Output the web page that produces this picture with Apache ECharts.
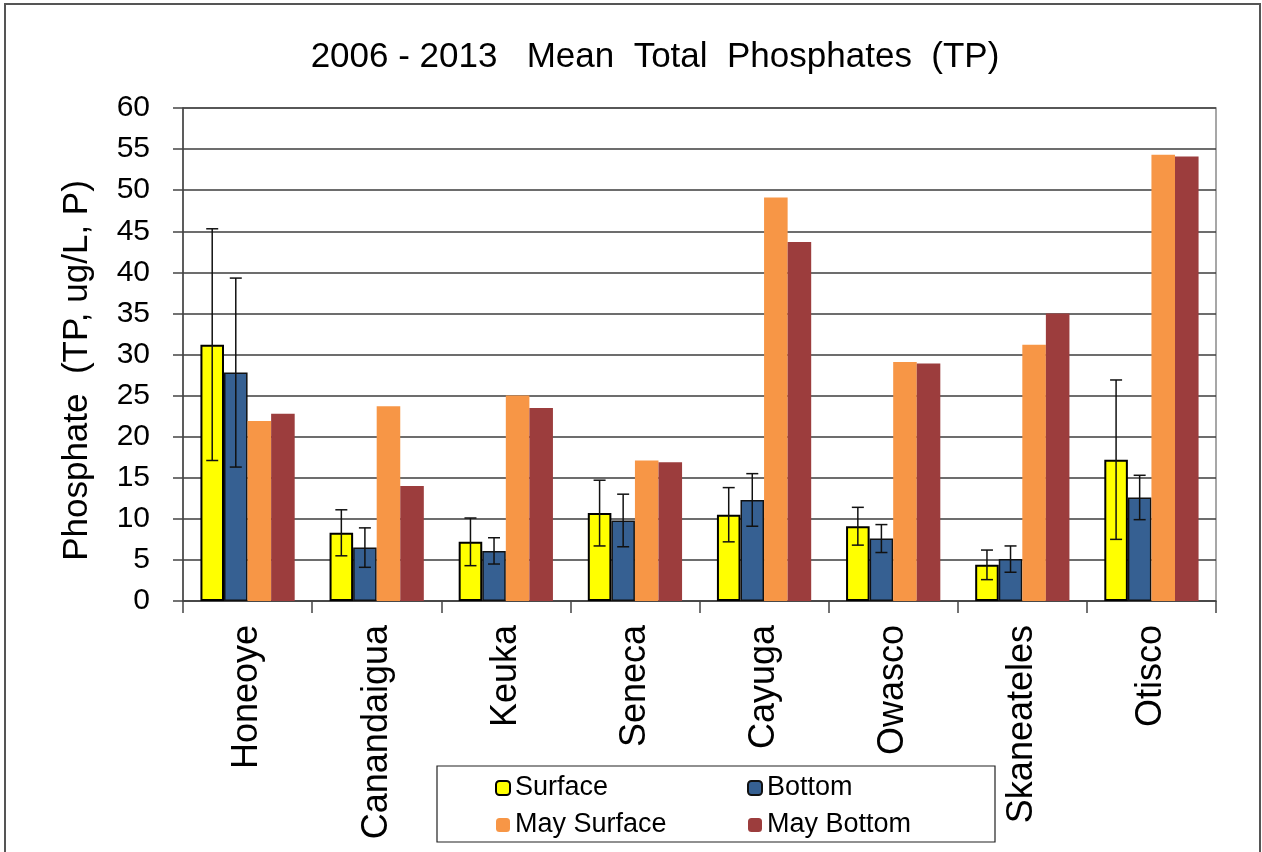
<!DOCTYPE html>
<html>
<head>
<meta charset="utf-8">
<title>2006 - 2013 Mean Total Phosphates (TP)</title>
<script src="https://cdn.jsdelivr.net/npm/echarts@6/dist/echarts.min.js"></script>
<style>
  html, body { margin: 0; padding: 0; background: #fff; }
  #chart { width: 1262px; height: 852px; }
</style>
</head>
<body>
<div id="chart"></div>
<script>
// Finger Lakes mean total phosphate, 2006 - 2013
const lakes = ['Honeoye', 'Canandaigua', 'Keuka', 'Seneca', 'Cayuga', 'Owasco', 'Skaneateles', 'Otisco'];

const surface      = [31.2, 8.3, 7.2, 10.7, 10.5, 9.1, 4.4, 17.2];
const surfaceErr   = [14.1, 2.8, 2.9, 4.0, 3.3, 2.3, 1.8, 9.7];
const bottom       = [27.8, 6.5, 6.1, 9.8, 12.3, 7.6, 5.1, 12.6];
const bottomErr    = [11.5, 2.4, 1.6, 3.2, 3.2, 1.7, 1.6, 2.7];
const maySurface   = [21.9, 23.7, 25.0, 17.1, 49.1, 29.1, 31.2, 54.3];
const mayBottom    = [22.8, 14.0, 23.5, 16.9, 43.7, 28.9, 35.0, 54.1];

const yTicks = { min: 0, max: 60, interval: 5 };

const FONT = '"Liberation Sans", Arial, sans-serif';
const CAT_GAP = 0.27;      // share of each category left empty
const BARS_PER_CAT = 4;

// vertical error bar with caps, placed over bar number `slot` of each group
function errorBars(slot) {
  return function (params, api) {
    const i = api.value(0);
    const mean = api.value(1);
    const e = api.value(2);
    const hi = api.coord([i, mean + e]);
    const lo = api.coord([i, mean - e]);
    const band = api.size([1, 0])[0];
    const bw = band * (1 - CAT_GAP) / BARS_PER_CAT;
    const x = hi[0] + (slot - (BARS_PER_CAT - 1) / 2) * bw;
    const cap = 6;
    const style = { stroke: '#111', lineWidth: 1.5 };
    return {
      type: 'group',
      children: [
        { type: 'line', shape: { x1: x, y1: hi[1], x2: x, y2: lo[1] }, style: style },
        { type: 'line', shape: { x1: x - cap, y1: hi[1], x2: x + cap, y2: hi[1] }, style: style },
        { type: 'line', shape: { x1: x - cap, y1: lo[1], x2: x + cap, y2: lo[1] }, style: style }
      ]
    };
  };
}

function errData(means, errs) {
  return means.map((m, i) => [i, m, errs[i]]);
}

const legendText = { fontFamily: FONT, fontSize: 27, color: '#000', lineHeight: 30 };

const chart = echarts.init(document.getElementById('chart'), null, { renderer: 'canvas' });

chart.setOption({
  animation: false,
  backgroundColor: '#ffffff',
  textStyle: { fontFamily: FONT, color: '#000' },
  title: {
    text: '2006 - 2013   Mean  Total  Phosphates  (TP)',
    left: 650,
    textAlign: 'center',
    top: 35,
    textStyle: { fontFamily: FONT, fontSize: 35, fontWeight: 'normal', color: '#000' }
  },
  grid: {
    left: 183, right: 46, top: 108, bottom: 251,
    show: true, borderColor: '#8a8a8a', borderWidth: 1.5, backgroundColor: 'transparent'
  },
  legend: [
    {
      data: ['Surface', 'May Surface'],
      orient: 'vertical',
      left: 490, top: 768,
      itemWidth: 14, itemHeight: 14, itemGap: 7,
      textStyle: legendText
    },
    {
      data: ['Bottom', 'May Bottom'],
      orient: 'vertical',
      left: 742, top: 768,
      itemWidth: 14, itemHeight: 14, itemGap: 7,
      textStyle: legendText
    }
  ],
  graphic: [
    // outer frame
    { type: 'rect', shape: { x: 5, y: 4, width: 1255, height: 880 },
      style: { fill: 'none', stroke: '#555', lineWidth: 2 }, silent: true },
    // legend frame
    { type: 'rect', shape: { x: 437, y: 766, width: 558, height: 76 },
      style: { fill: 'none', stroke: '#222', lineWidth: 1.2 }, silent: true, z: 10 }
  ],
  xAxis: {
    type: 'category',
    data: lakes,
    boundaryGap: true,
    axisLine: { lineStyle: { color: '#444', width: 1.5 } },
    axisTick: { show: true, length: 12, lineStyle: { color: '#444', width: 1.5 } },
    axisLabel: {
      interval: 0, rotate: 90, margin: 24,
      fontFamily: FONT, fontSize: 36, color: '#000'
    },
    splitLine: { show: false }
  },
  yAxis: {
    type: 'value',
    min: yTicks.min, max: yTicks.max, interval: yTicks.interval,
    name: 'Phosphate  (TP, ug/L, P)',
    nameLocation: 'middle',
    nameGap: 88,
    nameRotate: 90,
    nameTextStyle: { fontFamily: FONT, fontSize: 35, color: '#000', padding: [0, 32, 0, 0] },
    axisLine: { show: true, lineStyle: { color: '#444', width: 1.5 } },
    axisTick: { show: true, length: 10, lineStyle: { color: '#444', width: 1.5 } },
    axisLabel: { margin: 33, fontFamily: FONT, fontSize: 30, color: '#000' },
    splitLine: { show: true, lineStyle: { color: '#3c3c3c', width: 1.5 } }
  },
  series: [
    {
      name: 'Surface', type: 'bar', data: surface,
      barGap: '0%', barCategoryGap: (CAT_GAP * 100) + '%',
      itemStyle: { color: '#ffff00', borderColor: '#000', borderWidth: 2 }
    },
    {
      name: 'Bottom', type: 'bar', data: bottom,
      itemStyle: { color: '#366092', borderColor: '#111', borderWidth: 1.5 }
    },
    {
      name: 'May Surface', type: 'bar', data: maySurface,
      itemStyle: { color: '#f79646' }
    },
    {
      name: 'May Bottom', type: 'bar', data: mayBottom,
      itemStyle: { color: '#9c3d3d' }
    },
    {
      name: 'Surface error', type: 'custom', renderItem: errorBars(0),
      data: errData(surface, surfaceErr), encode: { x: 0, y: [1, 2] }, z: 5, silent: true
    },
    {
      name: 'Bottom error', type: 'custom', renderItem: errorBars(1),
      data: errData(bottom, bottomErr), encode: { x: 0, y: [1, 2] }, z: 5, silent: true
    }
  ]
});
</script>
</body>
</html>
